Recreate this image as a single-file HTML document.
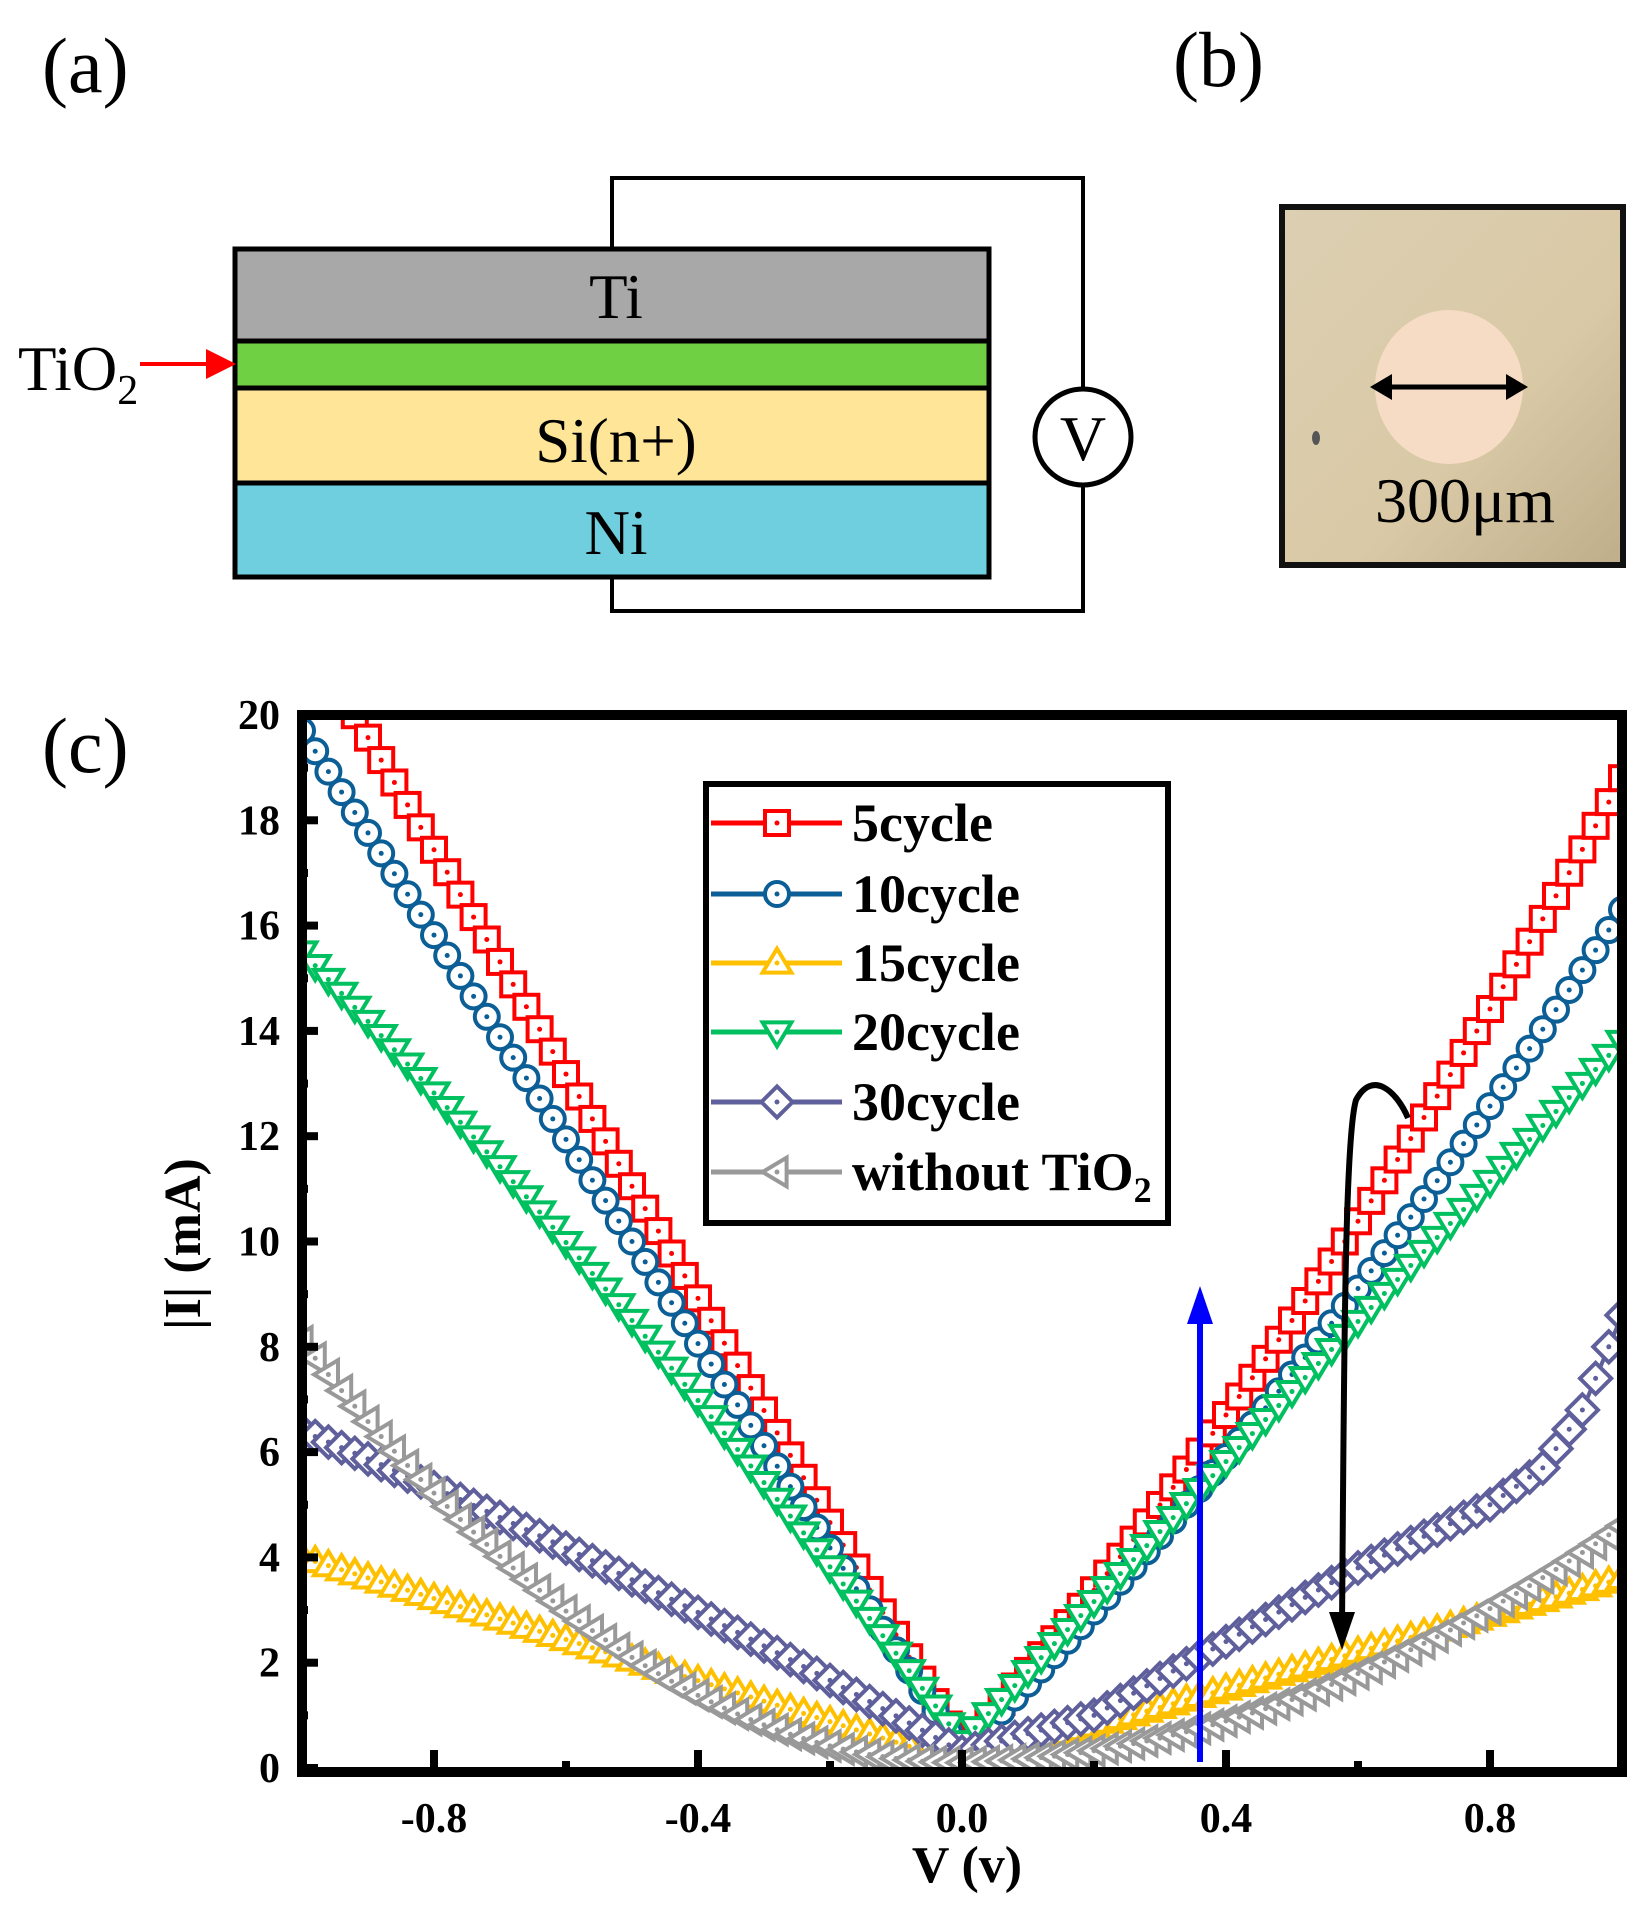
<!DOCTYPE html>
<html><head><meta charset="utf-8"><style>
html,body{margin:0;padding:0;background:#fff;}
svg{display:block;}
</style></head><body>
<svg id="s" width="1640" height="1908" viewBox="0 0 1640 1908" xmlns="http://www.w3.org/2000/svg" font-family="Liberation Serif, Times New Roman, serif">
<rect width="1640" height="1908" fill="#fff"/>
<text x="42" y="92" font-size="78">(a)</text>
<text x="1173" y="86" font-size="78">(b)</text>
<text x="42" y="772" font-size="78">(c)</text>
<polyline points="612,249 612,178 1083,178 1083,388" fill="none" stroke="#000" stroke-width="4"/>
<polyline points="1083,486 1083,611 612,611 612,577" fill="none" stroke="#000" stroke-width="4"/>
<rect x="235" y="249" width="754" height="92" fill="#a8a8a8" stroke="#000" stroke-width="5"/>
<rect x="235" y="341" width="754" height="47" fill="#70d044" stroke="#000" stroke-width="5"/>
<rect x="235" y="388" width="754" height="95" fill="#ffe597" stroke="#000" stroke-width="5"/>
<rect x="235" y="483" width="754" height="94" fill="#6fcfdf" stroke="#000" stroke-width="5"/>
<text x="616" y="318" font-size="63" text-anchor="middle">Ti</text>
<text x="616" y="462" font-size="63" text-anchor="middle">Si(n+)</text>
<text x="616" y="554" font-size="63" text-anchor="middle">Ni</text>
<text x="18" y="390" font-size="63">TiO<tspan font-size="42" dy="14">2</tspan></text>
<line x1="140" y1="364" x2="215" y2="364" stroke="#f00" stroke-width="4"/>
<polygon points="206,349 236,364 206,379" fill="#f00"/>
<circle cx="1083" cy="437" r="48" fill="#fff" stroke="#000" stroke-width="5"/>
<text x="1083" y="460" font-size="64" text-anchor="middle">V</text>
<defs><linearGradient id="pg" x1="0" y1="0" x2="1" y2="1"><stop offset="0" stop-color="#dccfb2"/><stop offset="0.6" stop-color="#d9c9a6"/><stop offset="1" stop-color="#bfae8a"/></linearGradient></defs>
<rect x="1282" y="207" width="341" height="358" fill="url(#pg)" stroke="#111" stroke-width="6"/>
<ellipse cx="1449" cy="387" rx="74" ry="77" fill="#f6dcc4"/>
<ellipse cx="1316" cy="438" rx="4" ry="7" fill="#555"/>
<line x1="1383" y1="387" x2="1515" y2="387" stroke="#000" stroke-width="5"/>
<polygon points="1370,387 1392,374 1392,400" fill="#000"/>
<polygon points="1528,387 1506,374 1506,400" fill="#000"/>
<text x="1465" y="522" font-size="64" text-anchor="middle">300μm</text>
<g id="plot"></g>
<rect x="302" y="715" width="1320" height="1057" fill="none" stroke="#000" stroke-width="10"/>
<g id="axes" font-weight="bold" font-size="42"></g>
<text x="967" y="1882" font-size="52" font-weight="bold" text-anchor="middle">V (v)</text>
<text transform="translate(200,1244) rotate(-90)" font-size="52" font-weight="bold" text-anchor="middle">|I| (mA)</text>
<line x1="1200" y1="1762" x2="1200" y2="1320" stroke="#0000ff" stroke-width="6"/>
<polygon points="1200,1286 1187,1324 1213,1324" fill="#0000ff"/>
<path d="M1408,1118 C1396,1090 1372,1070 1356,1100 C1344,1140 1344,1400 1342,1625" fill="none" stroke="#000" stroke-width="6"/>
<polygon points="1342,1650 1329,1612 1355,1612" fill="#000"/>
<rect x="706" y="784" width="462" height="439" fill="#fff" stroke="#000" stroke-width="6"/>
<g id="leg" font-size="54" font-weight="bold"></g>
</svg>
<script>
var NS="http://www.w3.org/2000/svg";
function el(t,a,p){var e=document.createElementNS(NS,t);for(var k in a)e.setAttribute(k,a[k]);p.appendChild(e);return e;}
var X0=302,X1=1622,Y0=1768,Y1=715;
function px(v){return X0+(v+1)/2*(X1-X0);}
function py(i){return Y0-i/20*(Y0-Y1);}
function marker(g,type,x,y,c,r){
 var sw=4;
 if(type=='s')el('rect',{x:x-r,y:y-r,width:2*r,height:2*r,fill:'#fff',stroke:c,'stroke-width':sw},g);
 else if(type=='c')el('circle',{cx:x,cy:y,r:r,fill:'#fff',stroke:c,'stroke-width':sw},g);
 else if(type=='u')el('polygon',{points:(x)+','+(y-r*1.2)+' '+(x-r*1.2)+','+(y+r*0.8)+' '+(x+r*1.2)+','+(y+r*0.8),fill:'#fff',stroke:c,'stroke-width':sw},g);
 else if(type=='d')el('polygon',{points:(x)+','+(y+r*1.2)+' '+(x-r*1.2)+','+(y-r*0.8)+' '+(x+r*1.2)+','+(y-r*0.8),fill:'#fff',stroke:c,'stroke-width':sw},g);
 else if(type=='m')el('polygon',{points:x+','+(y-r*1.3)+' '+(x+r*1.3)+','+y+' '+x+','+(y+r*1.3)+' '+(x-r*1.3)+','+y,fill:'#fff',stroke:c,'stroke-width':sw},g);
 else if(type=='l')el('polygon',{points:(x-r*1.2)+','+y+' '+(x+r*0.8)+','+(y-r*1.2)+' '+(x+r*0.8)+','+(y+r*1.2),fill:'#fff',stroke:c,'stroke-width':sw},g);
 el('circle',{cx:x,cy:y,r:2.5,fill:c},g);
}
function interp(pts,v){for(var i=0;i<pts.length-1;i++){if(v>=pts[i][0]&&v<=pts[i+1][0]){var t=(v-pts[i][0])/(pts[i+1][0]-pts[i][0]);return pts[i][1]+t*(pts[i+1][1]-pts[i][1]);}}return pts[pts.length-1][1];}
var S=[
 {c:'#ff0000',t:'s',f:function(v){return v<0?0.4+21.3*(-v):0.4+14*v+4.4*v*v;}},
 {c:'#0b5e96',t:'c',f:function(v){return v<0?0.3+19.4*(-v):0.3+12.7*v+3.3*v*v;}},
 {c:'#ffc000',t:'u',f:function(v){return v<0?0.1+3.9*(-v):0.1+3.5*v;}},
 {c:'#00c060',t:'d',f:function(v){return v<0?0.5+17*(-v)-2*v*v:0.5+13.3*v;}},
 {c:'#5f5f9c',t:'m',f:function(v){return v<0?0.3+7*(-v)-0.9*v*v:interp([[0,0.3],[0.2,1.0],[0.4,2.4],[0.6,3.8],[0.8,5.0],[0.88,5.7],[0.94,6.8],[1,8.6]],v);}},
 {c:'#999999',t:'l',f:function(v){return v<0?0.1+8*v*v:0.1+0.3*v+4.2*v*v;}}
];
var plot=document.getElementById('plot');
el('clipPath',{id:'cp'},plot);
el('rect',{x:X0,y:Y1,width:X1-X0,height:Y0-Y1+4},document.getElementById('cp'));
var G=el('g',{'clip-path':'url(#cp)'},plot);
S.forEach(function(s){
 var g=el('g',{},G);var d='';
 for(var v=-1;v<=1.0001;v+=0.02){var x=px(v),y=py(s.f(v));d+=(d?'L':'M')+x.toFixed(1)+','+y.toFixed(1);}
 el('path',{d:d,fill:'none',stroke:s.c,'stroke-width':4},g);
 for(var v=-1;v<=1.0001;v+=0.02){marker(g,s.t,px(v),py(s.f(v)),s.c,12);}
});
var ax=document.getElementById('axes');
for(var i=0;i<=20;i+=2){var y=py(i);el('line',{x1:X0,y1:y,x2:X0+16,y2:y,stroke:'#000','stroke-width':8},ax);
 if(i<20){el('line',{x1:X0,y1:py(i+1),x2:X0+6,y2:py(i+1),stroke:'#000','stroke-width':8},ax);}
 var t=el('text',{x:280,y:y+14,'text-anchor':'end'},ax);t.textContent=i;}
for(var k=-1;k<=1.0001;k+=0.2){var x=px(k),maj=Math.abs(Math.round(k*10))%4==0;
 el('line',{x1:x,y1:Y0,x2:x,y2:Y0-(maj?18:7),stroke:'#000','stroke-width':8},ax);
 if(maj&&Math.abs(k)<0.99){var t=el('text',{x:x,y:1832,'text-anchor':'middle'},ax);t.textContent=(Math.abs(k)<1e-6?'0.0':k.toFixed(1));}}
var L=document.getElementById('leg');
var names=['5cycle','10cycle','15cycle','20cycle','30cycle'];
var ys=[823,894,963,1032,1102,1172];
S.forEach(function(s,i){
 el('line',{x1:711,y1:ys[i],x2:842,y2:ys[i],stroke:s.c,'stroke-width':5},L);
 marker(L,s.t,777,ys[i],s.c,12);
 var t=el('text',{x:852,y:ys[i]+18},L);
 if(i<5)t.textContent=names[i];
 else{t.textContent='without TiO';var ts=el('tspan',{'font-size':36,dy:12},t);ts.textContent='2';}
});
</script>
</body></html>
